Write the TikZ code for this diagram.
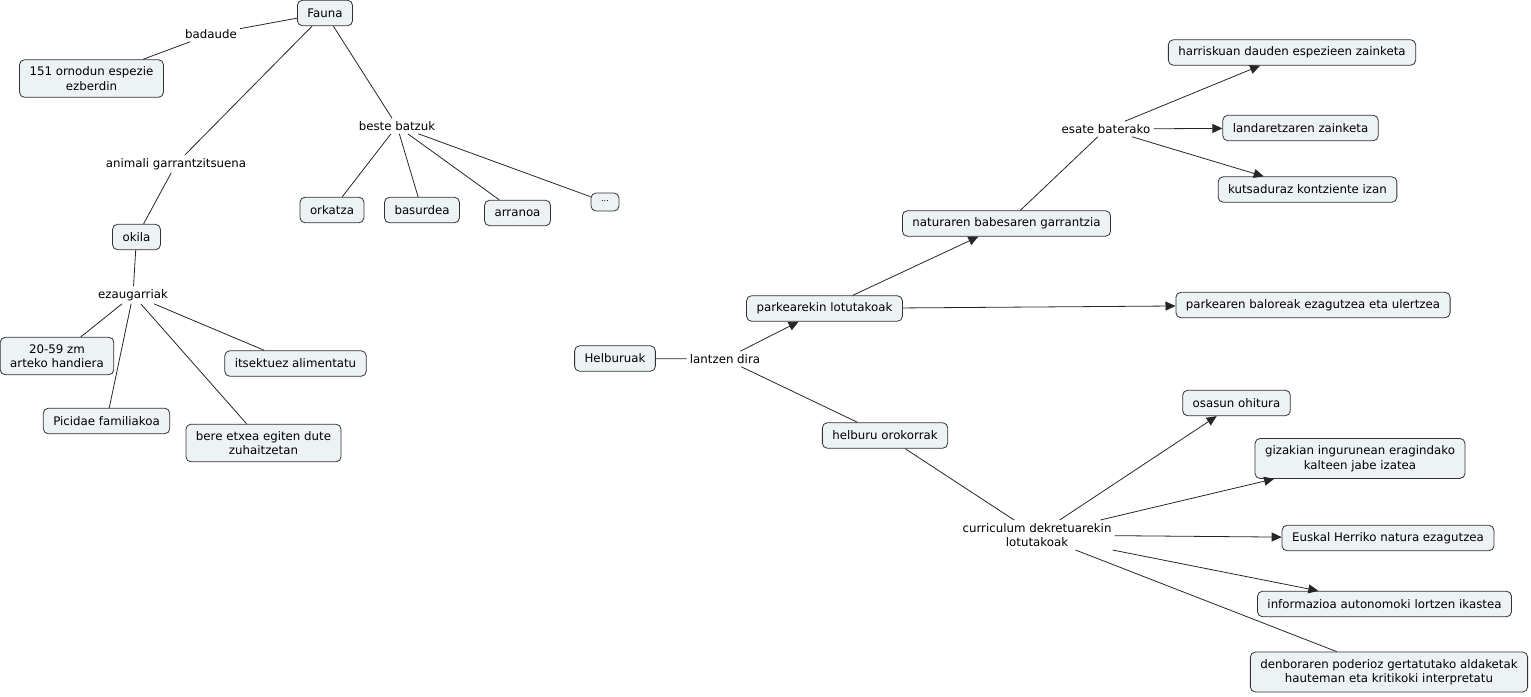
\documentclass[tikz,border=0pt]{standalone}
\usepackage{fontspec}
\setmainfont{DejaVu Sans}
\usetikzlibrary{arrows.meta}
\definecolor{boxfill}{RGB}{237,243,245}
\definecolor{boxline}{RGB}{50,50,50}
\tikzset{
  box/.style={draw=boxline, fill=boxfill, rounded corners=5pt, line width=0.8pt,
    inner xsep=10pt, inner ysep=7pt, minimum height=25.5pt, align=center,
    font=\fontsize{11.8}{14.5}\selectfont},
  lbl/.style={inner sep=3pt, align=center, font=\fontsize{11.8}{14.5}\selectfont},
  link/.style={draw=black!85, line width=0.8pt},
  arr/.style={link, -{Triangle[length=10pt,width=9pt]}}
}
\begin{document}
\begin{tikzpicture}[x=1pt,y=-1pt]
\useasboundingbox (0,0) rectangle (1531,696);
% left part
\node[box] (fauna) at (325,13) {Fauna};
\node[lbl] (badaude) at (211,34) {badaude};
\node[box] (ornodun) at (91.5,78.5) {151 ornodun espezie\\ezberdin};
\node[lbl] (animali) at (176,164) {animali garrantzitsuena};
\node[box] (okila) at (136.5,237) {okila};
\node[lbl] (ezaug) at (133,295) {ezaugarriak};
\node[box] (handiera) at (57,356) {20-59 zm\\arteko handiera};
\node[box] (picidae) at (106.5,421) {Picidae familiakoa};
\node[box] (etxea) at (263.5,443) {bere etxea egiten dute\\zuhaitzetan};
\node[box] (itsek) at (295.5,363.5) {itsektuez alimentatu};
\node[lbl] (beste) at (397,126) {beste batzuk};
\node[box] (orkatza) at (332,210) {orkatza};
\node[box] (basurdea) at (422,210) {basurdea};
\node[box] (arranoa) at (517.5,213) {arranoa};
\node[box, inner sep=0pt, minimum width=28pt, minimum height=18pt, font=\fontsize{8}{10}\selectfont] (dots) at (605,202) {\raisebox{2pt}{...}};

\draw[link] (fauna) -- (badaude);
\draw[link] (badaude) -- (ornodun);
\draw[link] (fauna) -- (animali);
\draw[link] (animali) -- (okila);
\draw[link] (okila) -- (ezaug);
\draw[link] (ezaug) -- (handiera);
\draw[link] (ezaug) -- (picidae);
\draw[link] (ezaug) -- (etxea);
\draw[link] (ezaug) -- (itsek);
\draw[link] (fauna) -- (beste);
\draw[link] (beste) -- (orkatza);
\draw[link] (beste) -- (basurdea);
\draw[link] (beste) -- (arranoa);
\draw[link] (beste) -- (dots);

% right part
\node[box] (helb) at (615,358.5) {Helburuak};
\node[lbl] (lantzen) at (725,359) {lantzen dira};
\node[box] (parke) at (824.5,308.5) {parkearekin lotutakoak};
\node[box] (orokor) at (885,435.5) {helburu orokorrak};
\node[box] (natur) at (1006.5,223.5) {naturaren babesaren garrantzia};
\node[lbl] (esate) at (1106,129) {esate baterako};
\node[box] (harris) at (1292,52.5) {harriskuan dauden espezieen zainketa};
\node[box] (landa) at (1300.5,128) {landaretzaren zainketa};
\node[box] (kutsa) at (1307.5,189.5) {kutsaduraz kontziente izan};
\node[box] (balor) at (1313,305) {parkearen baloreak ezagutzea eta ulertzea};
\node[lbl] (curri) at (1037,535) {curriculum dekretuarekin\\lotutakoak};
\node[box] (osasun) at (1236.5,403) {osasun ohitura};
\node[box] (giza) at (1360,458.5) {gizakian ingurunean eragindako\\kalteen jabe izatea};
\node[box] (euskal) at (1388,538) {Euskal Herriko natura ezagutzea};
\node[box] (infor) at (1384.5,604) {informazioa autonomoki lortzen ikastea};
\node[box] (denbo) at (1389,672) {denboraren poderioz gertatutako aldaketak\\hauteman eta kritikoki interpretatu};

\draw[link] (helb) -- (lantzen);
\draw[arr] (lantzen) -- (parke);
\draw[link] (lantzen) -- (orokor);
\draw[arr] (parke) -- (natur);
\draw[arr] (parke) -- (balor);
\draw[link] (natur) -- (esate);
\draw[arr] (esate) -- (harris);
\draw[arr] (esate) -- (landa);
\draw[arr] (esate) -- (kutsa);
\draw[link] (orokor) -- (curri);
\draw[arr] (curri) -- (osasun);
\draw[arr] (curri) -- (giza);
\draw[arr] (curri) -- (euskal);
\draw[arr] (curri) -- (infor);
\draw[link] (curri) -- (denbo);
\end{tikzpicture}
\end{document}
